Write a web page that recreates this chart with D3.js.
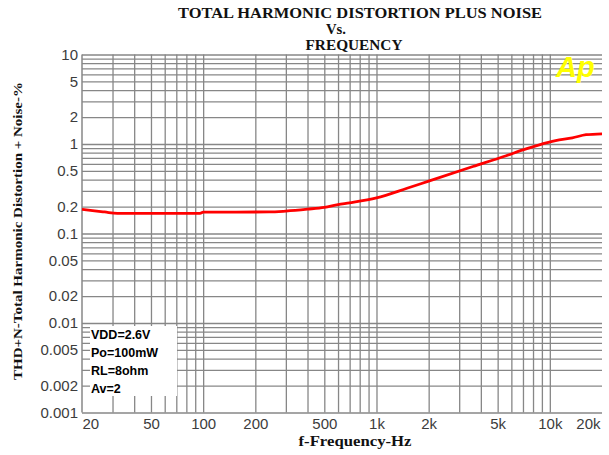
<!DOCTYPE html>
<html>
<head>
<meta charset="utf-8">
<script src="https://cdn.jsdelivr.net/npm/d3@7"></script>
<style>
  html, body { margin: 0; padding: 0; background: #fff; }
  svg { display: block; }
</style>
</head>
<body>
<svg id="chart"></svg>
<script>
// THD+N (%) vs frequency (Hz)
const freqHz = [20, 23, 27, 32, 50, 96, 100, 240, 300, 400, 500, 600, 700, 1000, 1500, 2000, 3600, 5600, 7000, 8700, 10800, 13500, 16200, 20000];
const thdPct = [0.186, 0.18, 0.174, 0.168, 0.168, 0.168, 0.173, 0.174, 0.178, 0.187, 0.196, 0.21, 0.22, 0.25, 0.32, 0.385, 0.56, 0.74, 0.86, 0.98, 1.09, 1.17, 1.27, 1.3];

const xTickValues = [20, 50, 100, 200, 500, 1000, 2000, 5000, 10000, 20000];
const xTickLabels = ["20", "50", "100", "200", "500", "1k", "2k", "5k", "10k", "20k"];
const yTickValues = [10, 5, 2, 1, 0.5, 0.2, 0.1, 0.05, 0.02, 0.01, 0.005, 0.002, 0.001];
const yTickLabels = ["10", "5", "2", "1", "0.5", "0.2", "0.1", "0.05", "0.02", "0.01", "0.005", "0.002", "0.001"];
const conditions = ["VDD=2.6V", "Po=100mW", "RL=8ohm", "Av=2"];

(function () {
  const svgWidth = 609, svgHeight = 455;
  const left = 82, right = 602, top = 54.5, bottom = 412.5;
  const width = right - left, height = bottom - top;
  const gridColor = "#878787";

  const svg = d3.select("#chart")
    .attr("width", svgWidth)
    .attr("height", svgHeight);

  const x = d3.scaleLog().domain([20, 20000]).range([left, right]);
  const y = d3.scaleLog().domain([0.001, 10]).range([bottom, top]);

  // horizontal grid (every 1..9 of each decade)
  const hGrid = svg.append("g")
    .attr("transform", `translate(${left},0)`)
    .call(d3.axisLeft(y).tickValues(y.ticks()).tickSize(-width).tickFormat(""));
  hGrid.select(".domain").remove();
  hGrid.selectAll("line").attr("stroke", gridColor).attr("stroke-width", 1.3);

  // vertical grid
  const vGrid = svg.append("g")
    .attr("transform", `translate(0,${bottom})`)
    .call(d3.axisBottom(x).tickValues(x.ticks().filter(d => d > 20 && d < 20000)).tickSize(-height).tickFormat(""));
  vGrid.select(".domain").remove();
  vGrid.selectAll("line").attr("stroke", gridColor).attr("stroke-width", 1.3);

  // left frame line
  svg.append("line")
    .attr("x1", left).attr("x2", left)
    .attr("y1", top).attr("y2", bottom)
    .attr("stroke", gridColor).attr("stroke-width", 1.5);

  // y tick labels
  const yAxis = svg.append("g")
    .attr("transform", `translate(${left - 4},0)`)
    .call(d3.axisLeft(y).tickValues(yTickValues).tickSize(0)
      .tickFormat((d, i) => yTickLabels[i]));
  yAxis.select(".domain").remove();
  yAxis.selectAll("text")
    .attr("x", 0)
    .style("font-family", "'Liberation Sans', Arial, sans-serif")
    .style("font-size", "15px")
    .attr("fill", "#3c3c3c");

  // x tick labels
  const xAxis = svg.append("g")
    .attr("transform", `translate(0,${bottom})`)
    .call(d3.axisBottom(x).tickValues(xTickValues).tickSize(0)
      .tickFormat((d, i) => xTickLabels[i]));
  xAxis.select(".domain").remove();
  xAxis.selectAll("text")
    .attr("y", 6)
    .style("font-family", "'Liberation Sans', Arial, sans-serif")
    .style("font-size", "15px")
    .attr("fill", "#3c3c3c")
    .attr("text-anchor", d => d === 20 ? "start" : d === 20000 ? "end" : "middle")
    .attr("dx", d => d === 20000 ? "-2" : "0");

  // condition box
  svg.append("rect")
    .attr("x", 90).attr("y", 326)
    .attr("width", 87).attr("height", 70)
    .attr("fill", "#fff");

  svg.selectAll(".cond")
    .data(conditions)
    .enter()
    .append("text")
    .attr("class", "cond")
    .attr("x", 91)
    .attr("y", (d, i) => 339 + i * 18)
    .style("font-family", "'Liberation Sans', Arial, sans-serif")
    .style("font-size", "12.5px")
    .style("font-weight", "bold")
    .attr("fill", "#000")
    .text(d => d);

  // curve
  const line = d3.line()
    .x((d, i) => x(freqHz[i]))
    .y(d => y(d))
    .curve(d3.curveMonotoneX);

  svg.append("path")
    .datum(thdPct)
    .attr("d", line)
    .attr("fill", "none")
    .attr("stroke", "#ff0000")
    .attr("stroke-width", 2.8);

  // Ap logo
  svg.append("text")
    .attr("x", 556)
    .attr("y", 77)
    .style("font-family", "'Liberation Sans', Arial, sans-serif")
    .style("font-size", "29px")
    .style("font-weight", "bold")
    .style("font-style", "italic")
    .attr("fill", "#ffff00")
    .text("Ap");

  // titles
  const serif = "'Liberation Serif', 'Times New Roman', serif";
  const titles = [
    { t: "TOTAL HARMONIC DISTORTION PLUS NOISE", x: 360, y: 18, w: 364 },
    { t: "Vs.", x: 336, y: 34, w: 20 },
    { t: "FREQUENCY", x: 354, y: 50, w: 97 }
  ];
  svg.selectAll(".title")
    .data(titles)
    .enter()
    .append("text")
    .attr("class", "title")
    .attr("x", d => d.x)
    .attr("y", d => d.y)
    .attr("text-anchor", "middle")
    .attr("textLength", d => d.w)
    .attr("lengthAdjust", "spacingAndGlyphs")
    .style("font-family", serif)
    .style("font-size", "15px")
    .style("font-weight", "bold")
    .attr("fill", "#111")
    .text(d => d.t);

  svg.append("text")
    .attr("x", 355)
    .attr("y", 446)
    .attr("text-anchor", "middle")
    .attr("textLength", 113)
    .attr("lengthAdjust", "spacingAndGlyphs")
    .style("font-family", serif)
    .style("font-size", "14px")
    .style("font-weight", "bold")
    .attr("fill", "#111")
    .text("f-Frequency-Hz");

  svg.append("text")
    .attr("transform", "translate(22,231) rotate(-90)")
    .attr("text-anchor", "middle")
    .attr("textLength", 298)
    .attr("lengthAdjust", "spacingAndGlyphs")
    .style("font-family", serif)
    .style("font-size", "13.5px")
    .style("font-weight", "bold")
    .attr("fill", "#111")
    .text("THD+N-Total Harmonic Distortion + Noise-%");
})();
</script>
</body>
</html>
